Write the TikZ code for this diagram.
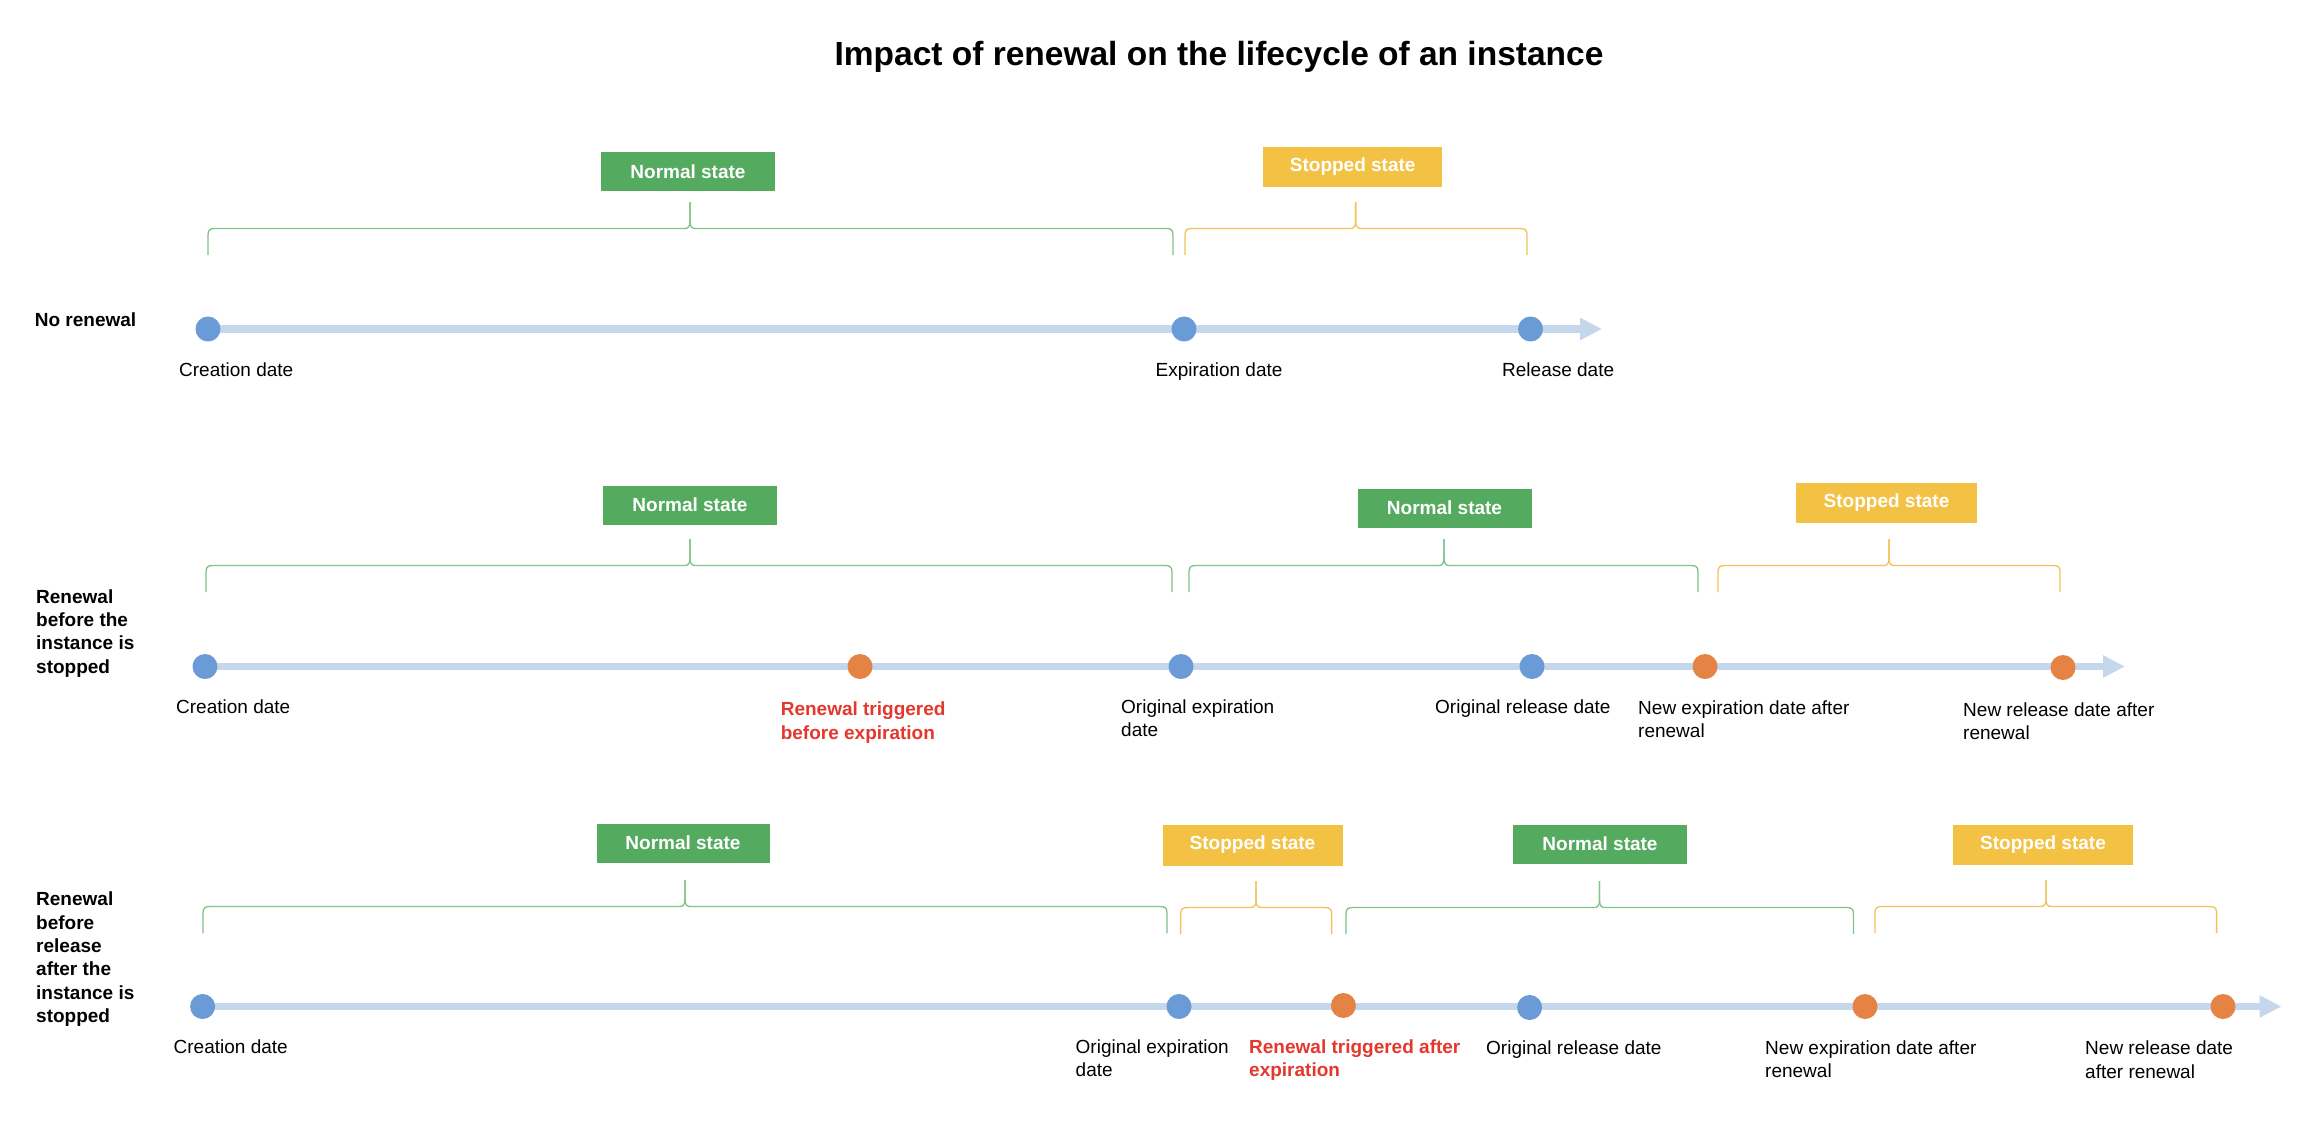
\documentclass[tikz,border=0pt]{standalone}
\usepackage{fontspec}
\setmainfont{Liberation Sans}
\usetikzlibrary{arrows.meta,backgrounds}
\definecolor{boxgreen}{RGB}{84,170,94}
\definecolor{boxyellow}{RGB}{243,193,68}
\definecolor{dotblue}{RGB}{106,155,214}
\definecolor{dotorange}{RGB}{229,131,68}
\definecolor{linebl}{RGB}{197,215,237}
\definecolor{redtxt}{RGB}{228,55,45}
\definecolor{brgreen}{RGB}{128,195,132}
\definecolor{bryellow}{RGB}{240,196,90}
% #1 left x, #2 right x, #3 tip x, #4 bottom y of the ends, #5 style
\newcommand\tlbrace[5]{%
  \draw[#5] (#1,#4) -- (#1,#4-20) .. controls (#1,#4-25) and (#1+2,#4-26.5) .. (#1+7,#4-26.5)
    -- (#3-5,#4-26.5) .. controls (#3-1.5,#4-26.5) and (#3,#4-29) .. (#3,#4-34) -- (#3,#4-53);
  \draw[#5] (#2,#4) -- (#2,#4-20) .. controls (#2,#4-25) and (#2-2,#4-26.5) .. (#2-7,#4-26.5)
    -- (#3+5,#4-26.5) .. controls (#3+1.5,#4-26.5) and (#3,#4-29) .. (#3,#4-34) -- (#3,#4-53);
}
\tikzset{
  lbl/.style={anchor=north west, inner sep=0pt, align=left,
    font=\fontsize{19}{23.3}\selectfont, execute at begin node=\rule{0pt}{14pt}},
  redlbl/.style={lbl, text=redtxt, font=\bfseries\fontsize{19}{23.3}\selectfont},
  rowlbl/.style={lbl, font=\bfseries\fontsize{19}{23.3}\selectfont},
  dotb/.style={circle, fill=dotblue, minimum size=25pt, inner sep=0pt},
  doto/.style={circle, fill=dotorange, minimum size=25pt, inner sep=0pt},
  normbox/.style={fill=boxgreen, text=white, font=\bfseries\fontsize{19}{23}\selectfont,
    minimum width=174pt, minimum height=39pt, inner sep=0pt},
  stopbox/.style={fill=boxyellow, text=white, font=\bfseries\fontsize{19}{23}\selectfont,
    minimum width=180pt, minimum height=40pt, inner sep=0pt},
  timeline/.style={draw=linebl, line width=7.5pt, -{Triangle[length=22pt,width=21pt]}},
  gbrace/.style={draw=brgreen, line width=1.3pt},
  ybrace/.style={draw=bryellow, line width=1.3pt},
}
\begin{document}
\begin{tikzpicture}[x=1pt,y=-1pt]
\begin{pgfonlayer}{background}
\fill[white] (0,0) rectangle (2300,1130);
\end{pgfonlayer}
\useasboundingbox (0,0) rectangle (2300,1130);

\node[font=\bfseries\fontsize{33.5}{40}\selectfont, anchor=base, inner sep=0pt] (title) at (1219,65)
  {Impact of renewal on the lifecycle of an instance};

% ---------- Row 1: No renewal ----------
\node[rowlbl] (row1) at (34.7,312.7) {No renewal};
\node[normbox] (r1n) at (688,171.5) {Normal state};
\node[stopbox, minimum width=179pt] (r1s) at (1352.7,166.7) {Stopped state};
\tlbrace{208}{1173}{690}{255}{gbrace}
\tlbrace{1185}{1527}{1355.6}{255}{ybrace}
\node[dotb] (r1c) at (208,329) {};
\node[dotb] (r1e) at (1184,329) {};
\node[dotb] (r1r) at (1530.5,329) {};
\coordinate (r1tip) at (1602,329);
\begin{pgfonlayer}{background}
\draw[timeline] (r1c.center) -- (r1tip);
\end{pgfonlayer}
\node[lbl] (r1cl) at (179,362.7) {Creation date};
\node[lbl] (r1el) at (1155.5,362.7) {Expiration date};
\node[lbl] (r1rl) at (1502,362.7) {Release date};

% ---------- Row 2: renewal before stop ----------
\node[rowlbl] (row2) at (36,589.3) {Renewal\\before the\\instance is\\stopped};
\node[normbox] (r2n1) at (690,505) {Normal state};
\node[normbox] (r2n2) at (1444.5,508) {Normal state};
\node[stopbox, minimum width=181pt] (r2s) at (1886.5,503) {Stopped state};
\tlbrace{206}{1172}{690}{592}{gbrace}
\tlbrace{1189}{1698}{1444}{592}{gbrace}
\tlbrace{1718}{2060}{1889}{592}{ybrace}
\node[dotb] (r2c) at (205,666.5) {};
\node[doto] (r2t) at (860,666.5) {};
\node[dotb] (r2oe) at (1181,666.5) {};
\node[dotb] (r2or) at (1532,666.5) {};
\node[doto] (r2ne) at (1705,666.5) {};
\node[doto] (r2nr) at (2063,667.5) {};
\coordinate (r2tip) at (2125,666.5);
\begin{pgfonlayer}{background}
\draw[timeline] (r2c.center) -- (r2tip);
\end{pgfonlayer}
\node[lbl] (r2cl) at (176,699.3) {Creation date};
\node[redlbl] (r2tl) at (780.6,702) {Renewal triggered\\before expiration};
\node[lbl] (r2oel) at (1121,699.3) {Original expiration\\date};
\node[lbl] (r2orl) at (1435,699.3) {Original release date};
\node[lbl] (r2nel) at (1638,700.3) {New expiration date after\\renewal};
\node[lbl] (r2nrl) at (1963,702.7) {New release date after\\renewal};

% ---------- Row 3: renewal after stop ----------
\node[rowlbl] (row3) at (36,892) {Renewal\\before\\release\\after the\\instance is\\stopped};
\node[normbox, minimum width=173pt] (r3n1) at (683,843) {Normal state};
\node[stopbox, minimum height=41pt] (r3s1) at (1252.5,845) {Stopped state};
\node[normbox] (r3n2) at (1600,844) {Normal state};
\node[stopbox] (r3s2) at (2043,844.5) {Stopped state};
\tlbrace{203}{1167}{685}{933}{gbrace}
\tlbrace{1180.6}{1331.6}{1256}{934}{ybrace}
\tlbrace{1346}{1853.5}{1599.5}{934}{gbrace}
\tlbrace{1875}{2216.6}{2046}{933}{ybrace}
\node[dotb] (r3c) at (202.6,1006.5) {};
\node[dotb] (r3oe) at (1179,1006.5) {};
\node[doto] (r3t) at (1343.4,1005.5) {};
\node[dotb] (r3or) at (1529.6,1007.5) {};
\node[doto] (r3ne) at (1865,1006.5) {};
\node[doto] (r3nr) at (2223,1006.5) {};
\coordinate (r3tip) at (2281.5,1006.5);
\begin{pgfonlayer}{background}
\draw[timeline] (r3c.center) -- (r3tip);
\end{pgfonlayer}
\node[lbl] (r3cl) at (173.5,1039.3) {Creation date};
\node[lbl] (r3oel) at (1075.5,1039.3) {Original expiration\\date};
\node[redlbl] (r3tl) at (1249,1039.3) {Renewal triggered after\\expiration};
\node[lbl] (r3orl) at (1486,1040.3) {Original release date};
\node[lbl] (r3nel) at (1765,1040.3) {New expiration date after\\renewal};
\node[lbl] (r3nrl) at (2085,1041) {New release date\\after renewal};
\end{tikzpicture}
\end{document}
